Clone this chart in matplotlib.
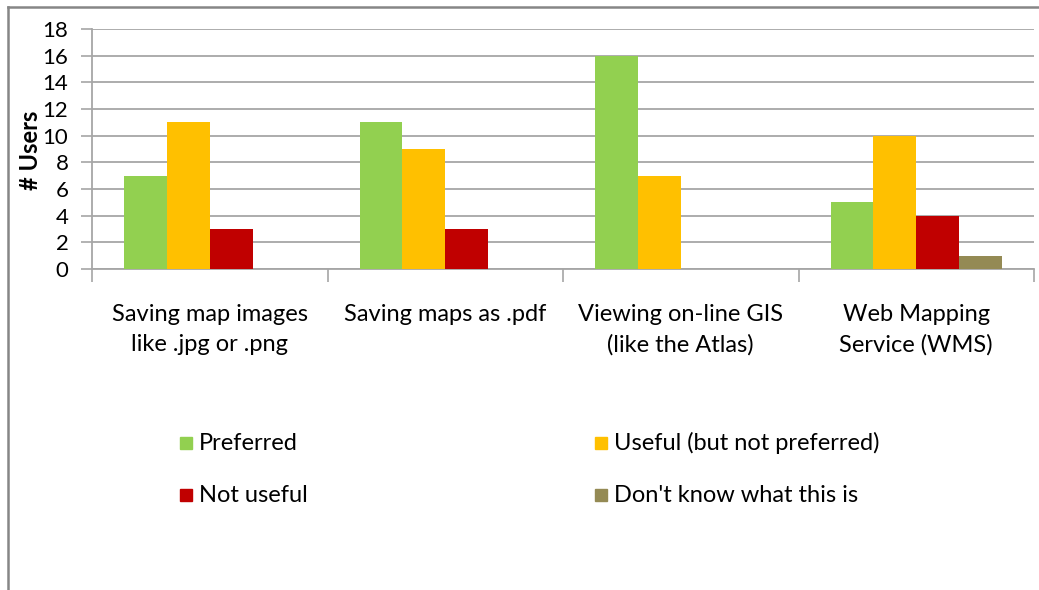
import numpy as np
import matplotlib
matplotlib.use("Agg")
import matplotlib.pyplot as plt
from matplotlib.lines import Line2D

# -----------------------------
# Data
# -----------------------------
categories = ["Saving map images\nlike .jpg or .png",
              "Saving maps as .pdf",
              "Viewing on-line GIS\n(like the Atlas)",
              "Web Mapping\nService (WMS)"]
series_names = ["Preferred", "Useful (but not preferred)",
                "Not useful", "Don't know what this is"]
preferred = [7, 11, 16, 5]
useful = [11, 9, 7, 10]
not_useful = [3, 3, 0, 4]
dont_know = [0, 0, 0, 1]
y_ticks = [0, 2, 4, 6, 8, 10, 12, 14, 16, 18]

colors = ["#92D050", "#FFC000", "#C00000", "#948A54"]
grid_col = "#A6A6A6"

plt.rcParams['font.family'] = ['Lato', 'DejaVu Sans']

fig = plt.figure(figsize=(10.39, 5.90), dpi=100)
ax = fig.add_axes([92/1039, 1 - 269/590, (1034 - 92)/1039, (269 - 29)/590])

x = np.arange(len(categories))
bw = 1 / 5.5
all_series = [preferred, useful, not_useful, dont_know]
for i, vals in enumerate(all_series):
    ax.bar(x + (i - 1.5) * bw, vals, width=bw, color=colors[i],
           label=series_names[i], zorder=3)

ax.set_xlim(-0.5, len(categories) - 0.5)
ax.set_ylim(0, 18)
ax.set_yticks(y_ticks)
ax.tick_params(axis="y", labelsize=16, length=8, width=1.2, color=grid_col, pad=9)
ax.yaxis.grid(True, color=grid_col, linewidth=1.3, zorder=0)
ax.set_axisbelow(True)

ax.set_xticks(x)
ax.set_xticklabels([])
ax.set_xticks(np.arange(-0.5, len(categories)), minor=True)
ax.tick_params(axis="x", which="major", length=0)
ax.tick_params(axis="x", which="minor", length=9, width=1.2, color=grid_col)

for xi, lab in zip(x, categories):
    ax.text(xi, -2.6, lab, ha="center", va="top", fontsize=17,
            linespacing=1.55, transform=ax.transData)

for s in ["top", "right"]:
    ax.spines[s].set_visible(False)
for s in ["left", "bottom"]:
    ax.spines[s].set_color(grid_col)
    ax.spines[s].set_linewidth(1.3)

fig.text(31/1039, 1 - 150/590, "# Users", rotation=90, ha="center", va="center",
         fontsize=17, fontweight="bold")

# legend in two columns (row order: Preferred, Useful / Not useful, Don't know)
leg_pos = [(180, 443), (595, 443), (180, 495), (595, 495)]
for (px, py), name, col in zip(leg_pos, series_names, colors):
    fig.patches.append(plt.Rectangle((px/1039, 1 - (py + 6)/590), 12/1039, 12/590,
                                     transform=fig.transFigure, color=col))
    fig.text((px + 19)/1039, 1 - py/590, name, ha="left", va="center", fontsize=17)

# chart border (top and left edges visible)
fig.add_artist(Line2D([8/1039, 1], [1 - 7/590, 1 - 7/590], color="#868686",
                      linewidth=1.8, transform=fig.transFigure))
fig.add_artist(Line2D([8/1039, 8/1039], [0, 1 - 7/590], color="#868686",
                      linewidth=1.8, transform=fig.transFigure))

fig.savefig("out.png", dpi=100)
